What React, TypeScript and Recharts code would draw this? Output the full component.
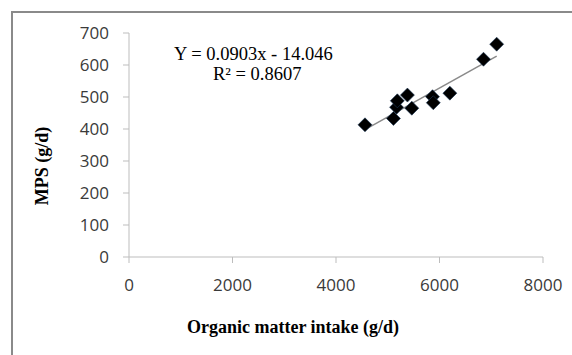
import React from "react";
import { ScatterChart, Scatter, XAxis, YAxis, ReferenceLine, Customized } from "recharts";

const omIntake = [4560, 5110, 5170, 5185, 5380, 5465, 5865, 5880, 6200, 6850, 7105];
const mpsValues = [413, 433, 468, 488, 506, 465, 501, 482, 512, 618, 665];
const xTicks = [0, 2000, 4000, 6000, 8000];
const yTicks = [0, 100, 200, 300, 400, 500, 600, 700];
const trendX = [4560, 7105];
const trendY = [398, 628];
const equationText = "Y = 0.0903x - 14.046";
const r2Text = "R² = 0.8607";
const xTitle = "Organic matter intake (g/d)";
const yTitle = "MPS (g/d)";

const data = omIntake.map((x, i) => ({ x, y: mpsValues[i] }));

const Diamond = (props: any) => {
  const { cx, cy } = props;
  const r = 7;
  return (
    <polygon
      points={`${cx},${cy - r} ${cx + r},${cy} ${cx},${cy + r} ${cx - r},${cy}`}
      fill="#000"
      stroke="#1f3a5a"
      strokeWidth={0.6}
    />
  );
};

const Texts = () => (
  <g fontFamily="'Liberation Serif', 'Times New Roman', serif" fill="#000">
    <text x={174} y={60} fontSize={18.5}>{equationText}</text>
    <text x={213} y={80} fontSize={18.5}>{r2Text}</text>
    <text x={293} y={333} fontSize={18} fontWeight="bold" textAnchor="middle">{xTitle}</text>
    <text x={48} y={166} fontSize={18} fontWeight="bold" textAnchor="middle" transform="rotate(-90 48 166)">{yTitle}</text>
  </g>
);

const tickStyle = { fontFamily: "'Open Sans', sans-serif", fontSize: 17, fill: "#3a3a3a" };

export default function App() {
  return (
    <div style={{ position: "absolute", left: 0, top: 0, width: 572, height: 355, background: "#fff", overflow: "hidden" }}>
      <div style={{ position: "absolute", left: 11, top: 11, width: 600, height: 400, borderLeft: "2px solid #8a8a8a", borderTop: "2px solid #8a8a8a" }} />
      <div style={{ position: "absolute", left: 0, top: 0 }}>
        <ScatterChart width={572} height={355} margin={{ top: 33, right: 29, bottom: 68, left: 0 }}>
          <XAxis
            type="number"
            dataKey="x"
            domain={[0, 8000]}
            ticks={xTicks}
            height={30}
            stroke="#bdbdbd"
            tickLine={{ stroke: "#bdbdbd" }}
            tick={tickStyle}
            tickSize={6}
            tickMargin={16}
          />
          <YAxis
            type="number"
            dataKey="y"
            domain={[0, 700]}
            ticks={yTicks}
            width={129}
            stroke="#bdbdbd"
            tickLine={{ stroke: "#bdbdbd" }}
            tick={tickStyle}
            tickSize={6}
            tickMargin={14}
          />
          <ReferenceLine
            segment={[{ x: trendX[0], y: trendY[0] }, { x: trendX[1], y: trendY[1] }]}
            stroke="#8a8a8a"
            strokeWidth={1.5}
            ifOverflow="visible"
          />
          <Scatter data={data} shape={<Diamond />} isAnimationActive={false} />
          <Customized component={Texts} />
        </ScatterChart>
      </div>
    </div>
  );
}
